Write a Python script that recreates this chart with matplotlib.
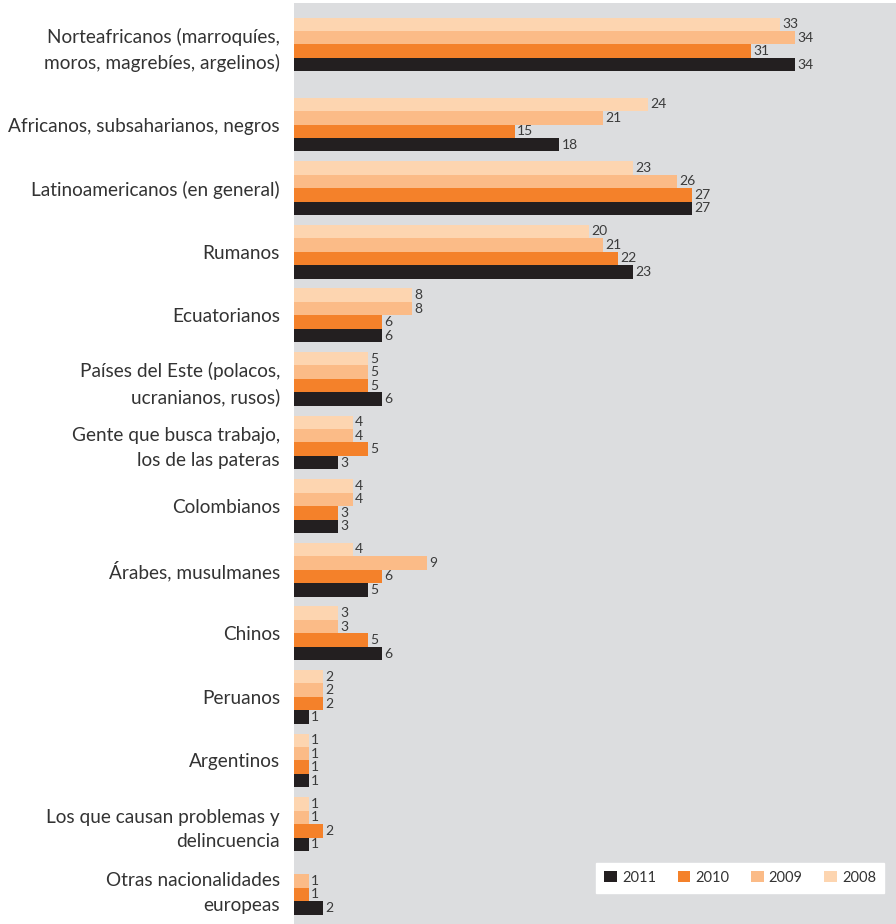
import numpy as np
import matplotlib.pyplot as plt
from matplotlib.patches import Patch

# categories, top to bottom
categorias = [
    'Norteafricanos (marroquíes,\nmoros, magrebíes, argelinos)',
    'Africanos, subsaharianos, negros',
    'Latinoamericanos (en general)',
    'Rumanos',
    'Ecuatorianos',
    'Países del Este (polacos,\nucranianos, rusos)',
    'Gente que busca trabajo,\nlos de las pateras',
    'Colombianos',
    'Árabes, musulmanes',
    'Chinos',
    'Peruanos',
    'Argentinos',
    'Los que causan problemas y\ndelincuencia',
    'Otras nacionalidades\neuropeas',
]

# None = no bar in that year
v2008 = [33, 24, 23, 20, 8, 5, 4, 4, 4, 3, 2, 1, 1, None]
v2009 = [34, 21, 26, 21, 8, 5, 4, 4, 9, 3, 2, 1, 1, 1]
v2010 = [31, 15, 27, 22, 6, 5, 5, 3, 6, 5, 2, 1, 2, 1]
v2011 = [34, 18, 27, 23, 6, 6, 3, 3, 5, 6, 1, 1, 1, 2]

years = ['2008', '2009', '2010', '2011']
series = [v2008, v2009, v2010, v2011]
colors = ['#fdd5b0', '#fbbb87', '#f4812a', '#231f20']

plt.rcParams['font.family'] = ['Lato', 'DejaVu Sans']

fig = plt.figure(figsize=(8.96, 9.24), dpi=100, facecolor='white')
ax = fig.add_axes([294 / 896, 0, 1 - 294 / 896, 921 / 924])
ax.set_facecolor('#dcdddf')

# group positions (first group sits a bit higher than the rest)
pos = np.arange(len(categorias)) + 0.258
pos[0] = 0
h = 0.212

for k, (vals, col) in enumerate(zip(series, colors)):
    off = (k - 1.5) * h
    for i, v in enumerate(vals):
        if v is None:
            continue
        ax.barh(pos[i] + off, v, height=h, color=col, linewidth=0)
        ax.text(v + 0.15, pos[i] + off, str(v), va='center', ha='left',
                fontsize=10, color='#3a3a3a')

ax.set_xlim(0, 40.85)
ax.set_ylim(13.829, -0.6525)
ax.set_yticks(pos)
ax.set_yticklabels(categorias, fontsize=13.7, color='#333333', linespacing=1.55)
ax.tick_params(axis='y', length=0, pad=10)
ax.set_xticks([])
for s in ax.spines.values():
    s.set_visible(False)

handles = [Patch(facecolor=colors[k], edgecolor='none', label=years[k]) for k in [3, 2, 1, 0]]
leg = ax.legend(handles=handles, ncol=4, loc='lower right', bbox_to_anchor=(0.98, 0.034),
                borderaxespad=0, frameon=True, fancybox=False, facecolor='white',
                edgecolor='white', framealpha=1, fontsize=10.5, handlelength=0.85,
                handleheight=0.85, handletextpad=0.35, columnspacing=1.5, borderpad=0.55)
for t in leg.get_texts():
    t.set_color('#333333')

fig.savefig('out.png', dpi=100, facecolor='white')
